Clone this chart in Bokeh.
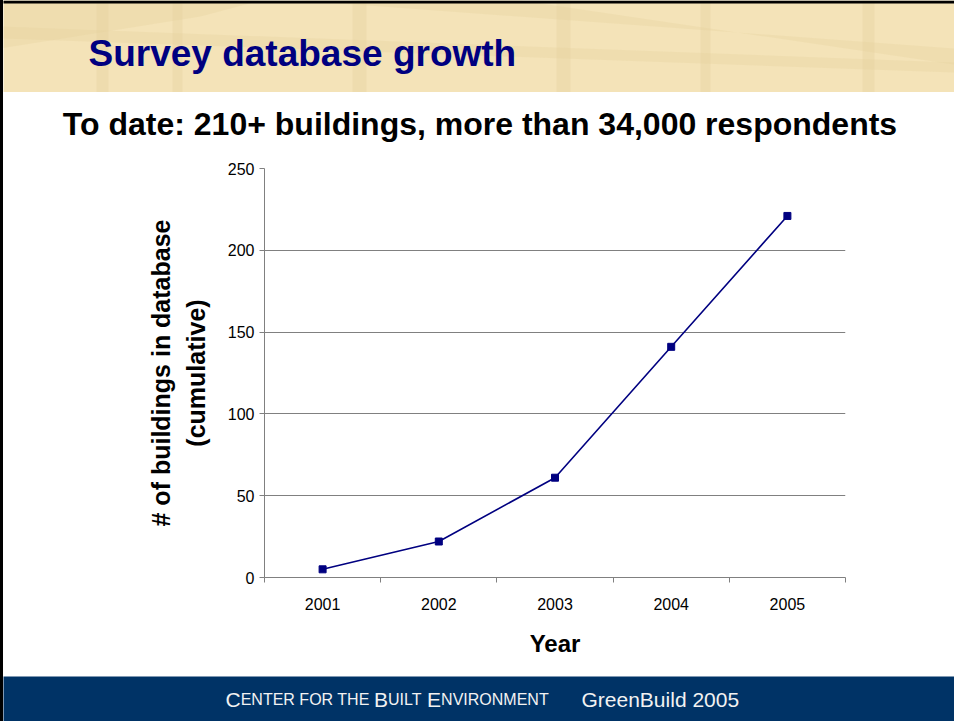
from bokeh.plotting import figure
from bokeh.layouts import column, row
from bokeh.models import FixedTicker, Range1d, Spacer
from bokeh.core.properties import value
from bokeh.embed import file_html
from bokeh.resources import INLINE

# ---------------- data ----------------
years = ["2001", "2002", "2003", "2004", "2005"]
buildings = [5, 22, 61, 141, 221]
y_ticks = [0, 50, 100, 150, 200, 250]

title_text = "Survey database growth"
subtitle_text = "To date: 210+ buildings, more than 34,000 respondents"
x_label = "Year"
y_label = "# of buildings in database\n(cumulative)"
footer_big = ["C", "B", "E"]
footer_small = ["ENTER FOR THE ", "UILT ", "NVIRONMENT"]
footer_right = "GreenBuild 2005"

FONT = "Liberation Sans"
NAVY = "#000080"
TAN = "#f4e3b8"
BEAM = "#e3cf9c"
FOOT = "#003366"
W = 951          # width of the slide content right of the black edge
OFF = 3          # width of the black slide edge


def blank(h, bg):
    f = figure(width=W, height=h, x_range=Range1d(OFF, OFF + W), y_range=Range1d(0, h),
               output_backend="svg", toolbar_location=None, min_border=0,
               x_axis_location=None, y_axis_location=None, frame_align=False)
    f.grid.visible = False
    f.outline_line_color = None
    f.background_fill_color = bg
    f.border_fill_color = bg
    return f


# ---------------- header ----------------
HH = 92
hdr = blank(HH, TAN)
beam_posts = [(96, 108), (172, 182), (352, 366), (556, 570), (700, 710), (862, 874)]
hdr.quad(left=[a for a, b in beam_posts], right=[b for a, b in beam_posts],
         bottom=0, top=HH, fill_color=BEAM, fill_alpha=0.35, line_color=None)
hdr.patches(xs=[[0, 954, 954, 0], [300, 954, 954, 520], [0, 260, 200, 0]],
            ys=[[66, 30, 20, 54], [92, 44, 28, 92], [92, 92, 76, 44]],
            fill_color=BEAM, fill_alpha=0.3, line_color=None)
hdr.line(x=[0, 954], y=[HH - 1.5, HH - 1.5], line_color="black", line_width=3)
hdr.text(x=[88], y=[HH - 53], text=[title_text], text_font=value(FONT),
         text_font_size="37px", text_font_style="bold", text_color=NAVY,
         text_baseline="alphabetic", text_align="left")

# ---------------- subtitle ----------------
SH = 63
sub = blank(SH, "white")
sub.text(x=[479.5], y=[SH - 31], text=[subtitle_text], text_font=value(FONT),
         text_font_size="32px", text_font_style="bold", text_color="black",
         text_baseline="alphabetic", text_align="center")

# ---------------- chart ----------------
CH = 521
n = len(years)
xs = [i + 0.5 for i in range(n)]
p = figure(width=W, height=CH, x_range=Range1d(0, n), y_range=Range1d(0, 250),
           output_backend="svg", toolbar_location=None, frame_align=False,
           min_border_left=264 - OFF, min_border_right=954 - 845,
           min_border_top=13, min_border_bottom=99)
p.outline_line_color = None
p.background_fill_color = "white"
p.border_fill_color = "white"

p.line(xs, buildings, line_color=NAVY, line_width=1.6)
p.scatter(xs, buildings, marker="square", size=7, fill_color=NAVY, line_color=NAVY)

p.xgrid.visible = False
p.ygrid.ticker = FixedTicker(ticks=y_ticks)
p.ygrid.grid_line_color = "#808080"
p.ygrid.grid_line_width = 1

xa = p.xaxis[0]
xa.ticker = FixedTicker(ticks=xs, minor_ticks=list(range(n + 1)))
xa.major_label_overrides = {x: yr for x, yr in zip(xs, years)}
xa.major_tick_out = 0
xa.major_tick_in = 0
xa.minor_tick_out = 5
xa.minor_tick_in = 0
xa.minor_tick_line_color = "#808080"
xa.axis_line_color = "#808080"
xa.major_label_text_font = FONT
xa.major_label_text_font_size = "16px"
xa.major_label_text_color = "black"
xa.major_label_standoff = 15
xa.axis_label = x_label
xa.axis_label_text_font = FONT
xa.axis_label_text_font_size = "24px"
xa.axis_label_text_font_style = "bold"
xa.axis_label_text_color = "black"
xa.axis_label_standoff = 17

ya = p.yaxis[0]
ya.ticker = FixedTicker(ticks=y_ticks, minor_ticks=[])
ya.major_tick_out = 5
ya.major_tick_in = 0
ya.major_tick_line_color = "#808080"
ya.minor_tick_line_color = None
ya.axis_line_color = "#808080"
ya.major_label_text_font = FONT
ya.major_label_text_font_size = "16px"
ya.major_label_text_color = "black"
ya.major_label_standoff = 5
ya.axis_label = y_label
ya.axis_label_text_font = FONT
ya.axis_label_text_font_size = "25px"
ya.axis_label_text_font_style = "bold"
ya.axis_label_text_color = "black"
ya.axis_label_text_line_height = 1.25
ya.axis_label_standoff = 15

# ---------------- footer ----------------
FH = 721 - HH - SH - CH
ftr = blank(FH, FOOT)
base = FH - (699 - (721 - FH))
ftr.text(x=[225, 373.5, 426.6], y=[base] * 3, text=footer_big, text_font=value(FONT),
         text_font_size="21px", text_color="#f2f2f2", text_baseline="alphabetic")
ftr.text(x=[240.2, 387.5, 440.6], y=[base] * 3, text=footer_small, text_font=value(FONT),
         text_font_size="16px", text_color="#f2f2f2", text_baseline="alphabetic")
ftr.text(x=[581], y=[base], text=[footer_right], text_font=value(FONT),
         text_font_size="21px", text_color="#f2f2f2", text_baseline="alphabetic")

edge = Spacer(width=OFF, height=721, styles={"background-color": "black"})
layout = row(edge, column(hdr, sub, p, ftr, spacing=0), spacing=0)
open("out.html", "w").write(file_html(layout, INLINE))
